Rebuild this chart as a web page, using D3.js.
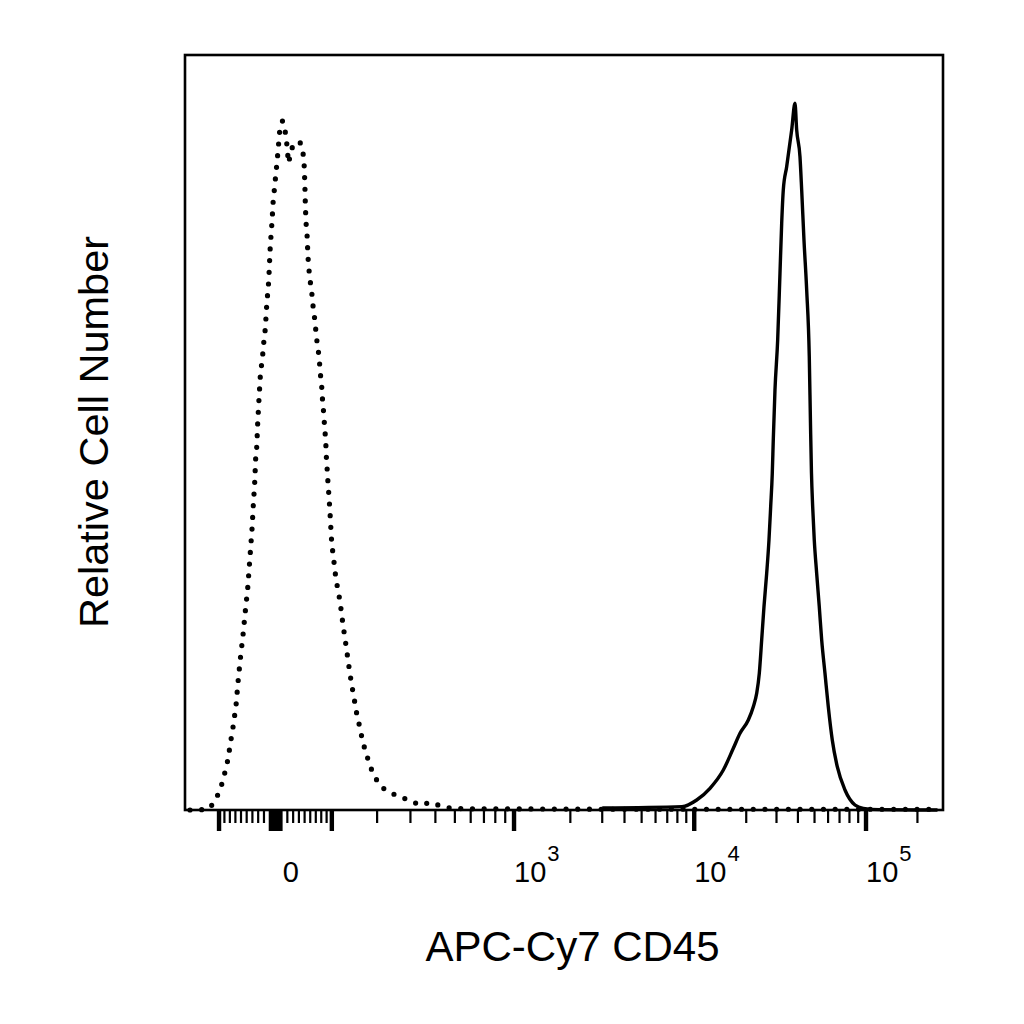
<!DOCTYPE html>
<html>
<head>
<meta charset="utf-8">
<script src="https://cdn.jsdelivr.net/npm/d3@7/dist/d3.min.js"></script>
<style>
  html, body { margin: 0; padding: 0; background: #fff; }
  svg { display: block; }
  text { font-family: "Liberation Sans", Arial, sans-serif; fill: #000; }
</style>
</head>
<body>
<svg id="chart" width="1024" height="1024"></svg>
<script>
// ---------------- data (fluorescence value, relative count) ----------------
const isoX = [-157, -137, -118, -106, -96.6, -91.0, -85.4, -81.8, -78.6, -75.0, -72.1, -69.0, -65.4, -61.3,
  -56.5, -52.5, -48.2, -43.7, -40.7, -38.4, -36.0, -34.3, -32.5, -30.8, -28.6, -26.3, -21.7, -20.0, -17.7,
  -15.3, -11.9, -9.2, -6.3, -4.0, -1.6, 0.1, 2.3, 5.7, 7.4, 11.7, 17.7, 22.0, 28.0, 34.9, 41.9, 47.1, 49.4,
  50.1, 50.7, 51.2, 51.9, 52.9, 54.7, 55.4, 56.5, 58.3, 60.8, 63.6, 65.4, 68.4, 70.3, 72.6, 75.7, 77.5, 79.3,
  81.7, 82.5, 84.9, 86.1, 88.0, 89.1, 89.9, 91.7, 92.8, 94.7, 96.0, 97.4, 98.5, 100.0, 102.8, 105.6, 108.1,
  112.7, 116.7, 119.5, 122.8, 126.3, 129.8, 133.1, 136.7, 140.4, 145.3, 149.1, 154.8, 160.3, 166.2, 174.2,
  182.2, 194.6, 210.2, 235.1, 265.3, 298.4, 335.2, 379.1, 425.1, 482.2, 600, 1000, 3000, 262144];
const isoY = [0, 0, 0.22, 1.41, 2.95, 4.45, 5.98, 7.49, 9.02, 10.57, 12.11, 13.70, 16.82, 19.91,
  23.08, 26.16, 29.29, 33.95, 37.08, 40.20, 43.29, 46.46, 47.99, 51.13, 54.25, 57.33, 60.50, 62.09, 63.58,
  66.71, 69.84, 74.50, 77.64, 80.75, 82.34, 83.88, 85.51, 88.60, 90.13, 91.02, 89.17, 85.47, 87.45, 88.24, 88.24, 86.92, 84.98,
  83.40, 81.90, 80.36, 78.73, 77.15, 75.60, 74.07, 72.48, 70.94, 69.35, 67.81, 66.27, 64.69, 63.14, 61.60, 60.07, 58.48, 56.90,
  55.35, 53.80, 52.27, 50.69, 49.14, 47.56, 46.01, 44.48, 42.89, 41.35, 39.76, 38.22, 36.68, 35.10, 33.55, 31.97, 30.42,
  28.89, 27.31, 25.76, 24.21, 22.63, 21.10, 19.55, 18.01, 16.47, 14.93, 13.34, 11.85, 10.30, 8.76, 7.27,
  5.81, 4.32, 3.08, 2.29, 1.76, 1.23, 0.66, 1.02, 0.53, 0.22, 0.15, 0.15, 0.1, 0.1];

const cd45X = [3000, 8500, 10335, 12336, 14727, 16829, 18403, 20563, 21985, 23007, 23822, 24596, 25366, 26300,
  27123, 27748, 28351, 28731, 29394, 30478, 31436, 32161, 32858, 34390, 36780, 38445, 39336, 41117, 42071,
  43390, 44995, 46595, 47350, 47993, 48770, 49829, 51463, 53296, 55047, 57547, 60158, 63487, 67907, 75321,
  86178, 96376, 120000, 262144];
const cd45Y = [0.26, 0.44, 1.32, 2.87, 5.28, 8.15, 10.13, 11.89, 13.65, 15.42, 18.06, 22.46, 26.86, 31.27,
  35.67, 40.07, 44.48, 48.88, 55.48, 62.09, 70.90, 77.50, 81.90, 84.98, 89.83, 93.36, 89.83, 86.30, 81.90,
  75.30, 68.69, 59.88, 51.08, 44.48, 40.07, 35.67, 31.27, 26.86, 22.46, 18.06, 13.65, 9.25, 5.72, 2.64,
  0.66, 0.22, 0.05, 0];

const majorTicks = [-100, 0, 100, 1000, 10000, 100000];
const minorTicks = [-90, -80, -70, -60, -50, -40, -30, -20, -10, -9, -8, -7, -6, -5, -4, -3, -2, -1,
  1, 2, 3, 4, 5, 6, 7, 8, 9, 10, 20, 30, 40, 50, 60, 70, 80, 90,
  200, 300, 400, 500, 600, 700, 800, 900,
  2000, 3000, 4000, 5000, 6000, 7000, 8000, 9000,
  20000, 30000, 40000, 50000, 60000, 70000, 80000, 90000, 200000];
const tickLabels = [
  { v: 0, base: "0", exp: "" },
  { v: 1000, base: "10", exp: "3" },
  { v: 10000, base: "10", exp: "4" },
  { v: 100000, base: "10", exp: "5" }
];
const xTitle = "APC-Cy7 CD45";
const yTitle = "Relative Cell Number";

// ---------------- logicle transform ----------------
function makeLogicle(T, W, M, A) {
  const w = W / (M + A), x2 = A / (M + A), x1 = x2 + w, x0 = x2 + 2 * w;
  const b = (M + A) * Math.LN10;
  const fd = d => 2 * (Math.log(d) - Math.log(b)) + w * (b + d);
  let lo = 1e-9, hi = b;
  for (let i = 0; i < 200; i++) { const m = (lo + hi) / 2; if (fd(m) < 0) lo = m; else hi = m; }
  const d = (lo + hi) / 2;
  const ca = Math.exp(x0 * (b + d));
  const fa = Math.exp(b * x1) - ca * Math.exp(-d * x1);
  const a = T / (Math.exp(b) - fa - ca * Math.exp(-d));
  const c = ca * a, f = fa * a;
  const S = y => a * Math.exp(b * y) - c * Math.exp(-d * y) - f;
  return v => {
    let l = -1, h = 2;
    for (let i = 0; i < 80; i++) { const m = (l + h) / 2; if (S(m) < v) l = m; else h = m; }
    return (l + h) / 2;
  };
}
const logicle = makeLogicle(262144, 0.62, 4.5, 0);

// ---------------- layout ----------------
const plot = { left: 185, top: 55, right: 943, bottom: 810 };
const svg = d3.select("#chart");

const xPos = d3.scaleLinear().domain([0, 1]).range([169.9, 937.5]);
const X = v => xPos(logicle(v));
const y = d3.scaleLinear().domain([0, 100]).range([810, 53]);

svg.append("defs").append("clipPath").attr("id", "clip")
  .append("rect").attr("x", plot.left).attr("y", 0)
  .attr("width", plot.right - plot.left).attr("height", plot.bottom + 6);

const g = svg.append("g").attr("clip-path", "url(#clip)");

g.append("path")
  .attr("d", d3.line().x(d => X(d[0])).y(d => y(d[1])).curve(d3.curveLinear)(d3.zip(isoX, isoY)))
  .attr("fill", "none").attr("stroke", "#000")
  .attr("stroke-width", 5.2).attr("stroke-linecap", "round")
  .attr("stroke-dasharray", "0 11.7");

g.append("path")
  .attr("d", d3.line().x(d => X(d[0])).y(d => y(d[1])).curve(d3.curveMonotoneX)(d3.zip(cd45X, cd45Y)))
  .attr("fill", "none").attr("stroke", "#000")
  .attr("stroke-width", 3.4).attr("stroke-linejoin", "round");

// frame
svg.append("rect")
  .attr("x", plot.left).attr("y", plot.top)
  .attr("width", plot.right - plot.left).attr("height", plot.bottom - plot.top)
  .attr("fill", "none").attr("stroke", "#000").attr("stroke-width", 2.6);

// ticks
const axisG = svg.append("g");
axisG.selectAll("line.minor").data(minorTicks).join("line")
  .attr("class", "minor")
  .attr("x1", d => X(d)).attr("x2", d => X(d))
  .attr("y1", plot.bottom).attr("y2", d => Math.abs(d) <= 10 ? plot.bottom + 21 : plot.bottom + 13)
  .attr("stroke", "#000").attr("stroke-width", 2.2);
axisG.selectAll("line.major").data(majorTicks).join("line")
  .attr("class", "major")
  .attr("x1", d => X(d)).attr("x2", d => X(d))
  .attr("y1", plot.bottom).attr("y2", plot.bottom + 21)
  .attr("stroke", "#000").attr("stroke-width", 4.4);

// tick labels
const lbl = axisG.selectAll("text.tl").data(tickLabels).join("text")
  .attr("class", "tl")
  .attr("x", d => X(d.v) + (d.v === 0 ? 7 : 0))
  .attr("y", 882)
  .attr("font-size", 29)
  .attr("text-anchor", "start");
lbl.append("tspan").text(d => d.base);
lbl.append("tspan").attr("font-size", 22).attr("dy", -21).attr("dx", 1).text(d => d.exp);

// axis titles
svg.append("text")
  .attr("x", 572.5).attr("y", 960.7)
  .attr("text-anchor", "middle").attr("font-size", 42)
  .text(xTitle);

svg.append("text")
  .attr("transform", "translate(108,432) rotate(-90)")
  .attr("text-anchor", "middle").attr("font-size", 41.5)
  .text(yTitle);
</script>
</body>
</html>
